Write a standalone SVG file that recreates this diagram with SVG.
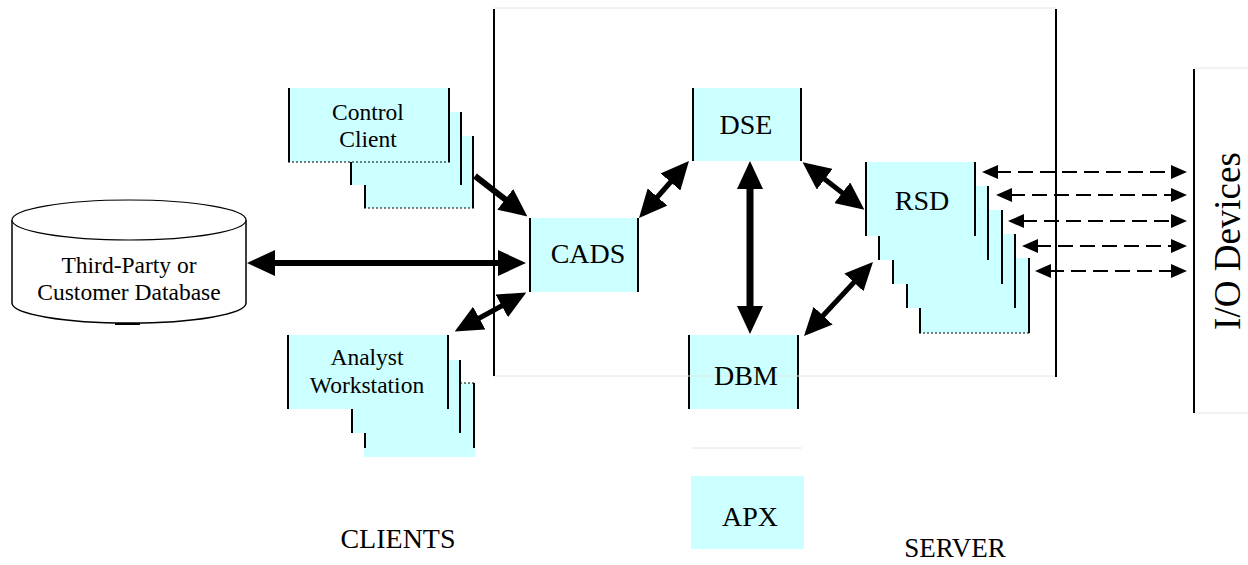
<svg xmlns="http://www.w3.org/2000/svg" width="1248" height="565" viewBox="0 0 1248 565">
<style>
.bx{fill:#ccffff;stroke:none}
.ed{stroke:#000;stroke-width:2}
.dot{stroke:#000;stroke-width:1;stroke-dasharray:2 2}
.gl{stroke:#e6e6e6;stroke-width:1;fill:none}
.fr{stroke:#000;stroke-width:2;fill:none}
.t{font-family:"Liberation Serif","Times New Roman",serif;fill:#000;text-anchor:middle}
.s{font-size:23.5px}
.b{font-size:28px}
.thick{stroke:#000;fill:none}
.dash{stroke:#000;stroke-width:2;stroke-dasharray:15 7;fill:none}
</style>
<defs>
<marker id="ah" markerUnits="userSpaceOnUse" markerWidth="28" markerHeight="26" refX="6" refY="13" orient="auto-start-reverse" viewBox="0 0 28 26">
<path d="M0,0 L28,13 L0,26 Z" fill="#000"/>
</marker>
<marker id="sh" markerUnits="userSpaceOnUse" markerWidth="16" markerHeight="14" refX="2" refY="7" orient="auto-start-reverse" viewBox="0 0 16 14">
<path d="M0,0 L16,7 L0,14 Z" fill="#000"/>
</marker>
</defs>
<rect width="1248" height="565" fill="#fff"/>

<g id="server-frame">
<line class="gl" x1="494" y1="8" x2="1056" y2="8"/>
<line class="gl" x1="494" y1="376" x2="1056" y2="376"/>
<line class="fr" x1="494" y1="9" x2="494" y2="376"/>
<line class="fr" x1="1056" y1="9" x2="1056" y2="377"/>
</g>

<g id="io-devices">
<line class="gl" x1="1194" y1="68" x2="1248" y2="68"/>
<line class="gl" x1="1194" y1="413" x2="1248" y2="413"/>
<line class="fr" x1="1194" y1="69" x2="1194" y2="413"/>
<text class="t" font-size="37" transform="translate(1240,241) rotate(-90)">I/O Devices</text>
</g>

<g id="database">
<path d="M12,220 L12,303 A117,20 0 0 0 246,303 L246,220" fill="#fff" stroke="#000" stroke-width="1.5"/>
<ellipse cx="129" cy="220" rx="117" ry="20" fill="#fff" stroke="#000" stroke-width="1.2"/>
<line x1="115" y1="324" x2="140" y2="324" stroke="#000" stroke-width="2"/>
<text class="t s" x="129" y="273">Third-Party or</text>
<text class="t s" x="129" y="300">Customer Database</text>
</g>

<g id="control-client">
<rect class="bx" x="364" y="136" width="110" height="72"/>
<line class="ed" x1="365" y1="136" x2="365" y2="208"/>
<line class="ed" x1="473" y1="136" x2="473" y2="208"/>
<line class="dot" x1="364" y1="208" x2="474" y2="208"/>
<rect class="bx" x="350" y="112" width="112" height="73"/>
<line class="ed" x1="351" y1="112" x2="351" y2="185"/>
<line class="ed" x1="461" y1="112" x2="461" y2="185"/>
<rect class="bx" x="288" y="88" width="162" height="74"/>
<line class="ed" x1="289" y1="88" x2="289" y2="162"/>
<line class="ed" x1="449" y1="88" x2="449" y2="162"/>
<line class="dot" x1="288" y1="162" x2="450" y2="162"/>
<text class="t s" x="368" y="120">Control</text>
<text class="t s" x="368" y="147">Client</text>
</g>

<g id="analyst-workstation">
<rect class="bx" x="364" y="383" width="111" height="74"/>
<line class="ed" x1="365" y1="383" x2="365" y2="448"/>
<line class="ed" x1="474" y1="383" x2="474" y2="448"/>
<line class="dot" x1="460" y1="383" x2="475" y2="383"/>
<rect class="bx" x="351" y="360" width="110" height="73"/>
<line class="ed" x1="352" y1="360" x2="352" y2="433"/>
<line class="ed" x1="460" y1="360" x2="460" y2="433"/>
<rect class="bx" x="287" y="335" width="162" height="74"/>
<line class="ed" x1="288" y1="335" x2="288" y2="409"/>
<line class="ed" x1="448" y1="335" x2="448" y2="409"/>
<text class="t s" x="367" y="365">Analyst</text>
<text class="t s" x="367" y="393">Workstation</text>
</g>

<g id="cads">
<rect class="bx" x="529" y="218" width="110" height="74"/>
<line class="ed" x1="530" y1="218" x2="530" y2="292"/>
<line class="ed" x1="638" y1="218" x2="638" y2="292"/>
<text class="t b" x="588" y="263">CADS</text>
</g>

<g id="dse">
<rect class="bx" x="692" y="88" width="110" height="73"/>
<line class="ed" x1="693" y1="88" x2="693" y2="161"/>
<line class="ed" x1="801" y1="88" x2="801" y2="161"/>
<text class="t b" x="746" y="134">DSE</text>
</g>

<g id="dbm">
<rect class="bx" x="688" y="335" width="111" height="74"/>
<line class="ed" x1="689" y1="335" x2="689" y2="409"/>
<line class="ed" x1="798" y1="335" x2="798" y2="409"/>
<line class="gl" x1="688" y1="376" x2="799" y2="376"/>
<text class="t b" x="746" y="385">DBM</text>
</g>

<g id="apx">
<line class="gl" x1="692" y1="448" x2="802" y2="448"/>
<rect class="bx" x="691" y="476" width="113" height="73"/>
<text class="t b" x="750" y="526">APX</text>
</g>

<g id="rsd">
<rect class="bx" x="919" y="258" width="111" height="75"/>
<line class="ed" x1="920" y1="258" x2="920" y2="333"/>
<line class="ed" x1="1029" y1="258" x2="1029" y2="333"/>
<line class="dot" x1="919" y1="333" x2="1030" y2="333"/>
<rect class="bx" x="906" y="234" width="110" height="74"/>
<line class="ed" x1="907" y1="234" x2="907" y2="308"/>
<line class="ed" x1="1015" y1="234" x2="1015" y2="308"/>
<rect class="bx" x="892" y="210" width="111" height="74"/>
<line class="ed" x1="893" y1="210" x2="893" y2="284"/>
<line class="ed" x1="1002" y1="210" x2="1002" y2="284"/>
<rect class="bx" x="878" y="186" width="111" height="74"/>
<line class="ed" x1="879" y1="186" x2="879" y2="260"/>
<line class="ed" x1="988" y1="186" x2="988" y2="260"/>
<rect class="bx" x="865" y="162" width="111" height="74"/>
<line class="ed" x1="866" y1="162" x2="866" y2="236"/>
<line class="ed" x1="975" y1="162" x2="975" y2="236"/>
<text class="t b" x="922" y="210">RSD</text>
</g>

<g id="labels">
<text class="t b" x="398" y="548">CLIENTS</text>
<text class="t" font-size="27" x="955" y="557">SERVER</text>
</g>

<g id="connectors">
<line class="thick" stroke-width="6" x1="475" y1="176" x2="510" y2="203" marker-end="url(#ah)"/>
<line class="thick" stroke-width="6" x1="269" y1="263" x2="504" y2="263" marker-start="url(#ah)" marker-end="url(#ah)"/>
<line class="thick" stroke-width="5" x1="507" y1="303" x2="474" y2="321" marker-start="url(#ah)" marker-end="url(#ah)"/>
<line class="thick" stroke-width="5" x1="653.5" y1="201.5" x2="674.5" y2="177.5" marker-start="url(#ah)" marker-end="url(#ah)"/>
<line class="thick" stroke-width="7" x1="750" y1="183" x2="750" y2="312" marker-start="url(#ah)" marker-end="url(#ah)"/>
<line class="thick" stroke-width="5" x1="820" y1="175.6" x2="847" y2="196.4" marker-start="url(#ah)" marker-end="url(#ah)"/>
<line class="thick" stroke-width="5" x1="819" y1="320" x2="858" y2="278" marker-start="url(#ah)" marker-end="url(#ah)"/>
<line class="dash" x1="996" y1="172" x2="1173" y2="172" marker-start="url(#sh)" marker-end="url(#sh)"/>
<line class="dash" x1="1010" y1="195" x2="1173" y2="195" marker-start="url(#sh)" marker-end="url(#sh)"/>
<line class="dash" x1="1022" y1="221" x2="1173" y2="221" marker-start="url(#sh)" marker-end="url(#sh)"/>
<line class="dash" x1="1036" y1="246" x2="1173" y2="246" marker-start="url(#sh)" marker-end="url(#sh)"/>
<line class="dash" x1="1049" y1="271" x2="1173" y2="271" marker-start="url(#sh)" marker-end="url(#sh)"/>
</g>
</svg>
